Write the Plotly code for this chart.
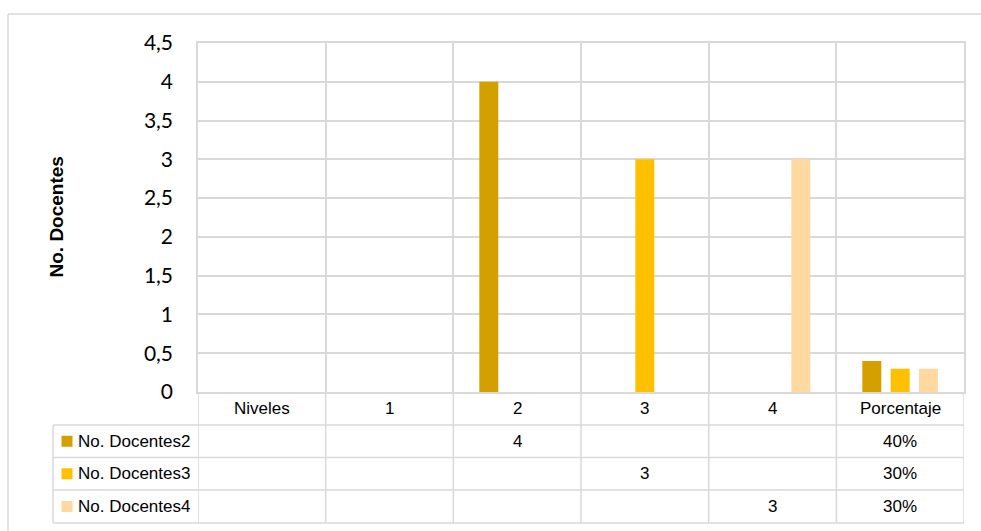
import plotly.graph_objects as go

# ---------------- data ----------------
categories = ["Niveles", "1", "2", "3", "4", "Porcentaje"]
series_names = ["No. Docentes2", "No. Docentes3", "No. Docentes4"]
docentes2 = [None, None, 4, None, None, 0.4]
docentes3 = [None, None, None, 3, None, 0.3]
docentes4 = [None, None, None, None, 3, 0.3]
y_ticks = [0, 0.5, 1, 1.5, 2, 2.5, 3, 3.5, 4, 4.5]
y_title = "No. Docentes"

colors = ["#D4A000", "#FFC000", "#FFD9A0"]
series = [docentes2, docentes3, docentes4]

# ---------------- geometry (pixels) ----------------
W, H = 981, 531
L, R, T, B = 198, 964, 43, 392
GRID = "#D9D9D9"
TABLE_FONT = dict(family="Liberation Sans, Arial", size=17, color="#000000")

pw, ph = R - L, B - T


def px_x(x):
    return (x - L) / pw


def px_y(y):
    return (B - y) / ph


fig = go.Figure()
for name, vals, c in zip(series_names, series, colors):
    fig.add_trace(go.Bar(x=categories, y=vals, name=name, marker=dict(color=c, line=dict(width=0)),
                         showlegend=False, hoverinfo="x+y+name"))

shapes = []
annotations = []

# table row boundaries (pixels)
row_lines = [425, 457.5, 490, 523]
table_left = 53

# horizontal table lines
for yl in row_lines:
    shapes.append(dict(type="line", xref="paper", yref="paper", x0=px_x(table_left), x1=px_x(R),
                       y0=px_y(yl), y1=px_y(yl), line=dict(color=GRID, width=1.5), layer="below"))
# vertical table lines at category boundaries
n = len(categories)
for i in range(n + 1):
    shapes.append(dict(type="line", xref="x", yref="paper", x0=i - 0.5, x1=i - 0.5,
                       y0=0, y1=px_y(row_lines[-1]), line=dict(color=GRID, width=1.5), layer="below"))
shapes.append(dict(type="line", xref="paper", yref="paper", x0=px_x(table_left), x1=px_x(table_left),
                   y0=px_y(row_lines[0]), y1=px_y(row_lines[-1]), line=dict(color=GRID, width=1.5)))

# outer chart border
shapes.append(dict(type="line", xref="paper", yref="paper", x0=px_x(8), x1=px_x(W + 5),
                   y0=px_y(14), y1=px_y(14), line=dict(color=GRID, width=1.5)))
shapes.append(dict(type="line", xref="paper", yref="paper", x0=px_x(8), x1=px_x(8),
                   y0=px_y(14), y1=px_y(H + 5), line=dict(color=GRID, width=1.5)))

# header row (category labels)
header_center = (B + row_lines[0]) / 2
for cat in categories:
    annotations.append(dict(x=cat, y=px_y(header_center), xref="x", yref="paper", text=cat,
                            showarrow=False, font=TABLE_FONT, xanchor="center", yanchor="middle"))

# data rows
for r, (name, vals, c) in enumerate(zip(series_names, series, colors)):
    yc = (row_lines[r] + row_lines[r + 1]) / 2
    shapes.append(dict(type="rect", xref="paper", yref="paper", x0=px_x(61.5), x1=px_x(72.5),
                       y0=px_y(yc - 5.5), y1=px_y(yc + 5.5), fillcolor=c, line=dict(width=0)))
    annotations.append(dict(x=px_x(76), y=px_y(yc), xref="paper", yref="paper", text=name,
                            showarrow=False, font=TABLE_FONT, xanchor="left", yanchor="middle"))
    for cat, v in zip(categories, vals):
        if v is None:
            continue
        txt = f"{v:.0%}" if cat == "Porcentaje" else f"{v:g}"
        annotations.append(dict(x=cat, y=px_y(yc), xref="x", yref="paper", text=txt,
                                showarrow=False, font=TABLE_FONT, xanchor="center", yanchor="middle"))

# y-axis title
annotations.append(dict(x=px_x(56), y=0.5, xref="paper", yref="paper", text="<b>" + y_title + "</b>",
                        textangle=-90, showarrow=False,
                        font=dict(family="Liberation Sans, Arial", size=19, color="#000000"),
                        xanchor="center", yanchor="middle"))

fig.update_layout(
    width=W, height=H,
    margin=dict(l=L, r=W - R, t=T, b=H - B, pad=0),
    paper_bgcolor="white", plot_bgcolor="white",
    barmode="group", bargap=0.334, bargroupgap=0.33,
    separators=",.",
    shapes=shapes, annotations=annotations,
    showlegend=False,
)
fig.update_xaxes(
    type="category", categoryorder="array", categoryarray=categories,
    range=[-0.5, n - 0.5], showticklabels=False, ticks="",
    tickson="boundaries", showgrid=True, gridcolor=GRID, gridwidth=1.5,
    showline=True, linecolor=GRID, linewidth=1.5, mirror=True, zeroline=False,
)
fig.update_yaxes(
    range=[0, 4.5], tickvals=y_ticks, showgrid=True, gridcolor=GRID, gridwidth=1.5,
    showline=True, linecolor=GRID, linewidth=1.5, mirror=True, zeroline=False, ticks="",
    tickfont=dict(family="Lato", size=21, color="#000000"), ticklabelstandoff=19,
)

fig.write_html("out.html")
